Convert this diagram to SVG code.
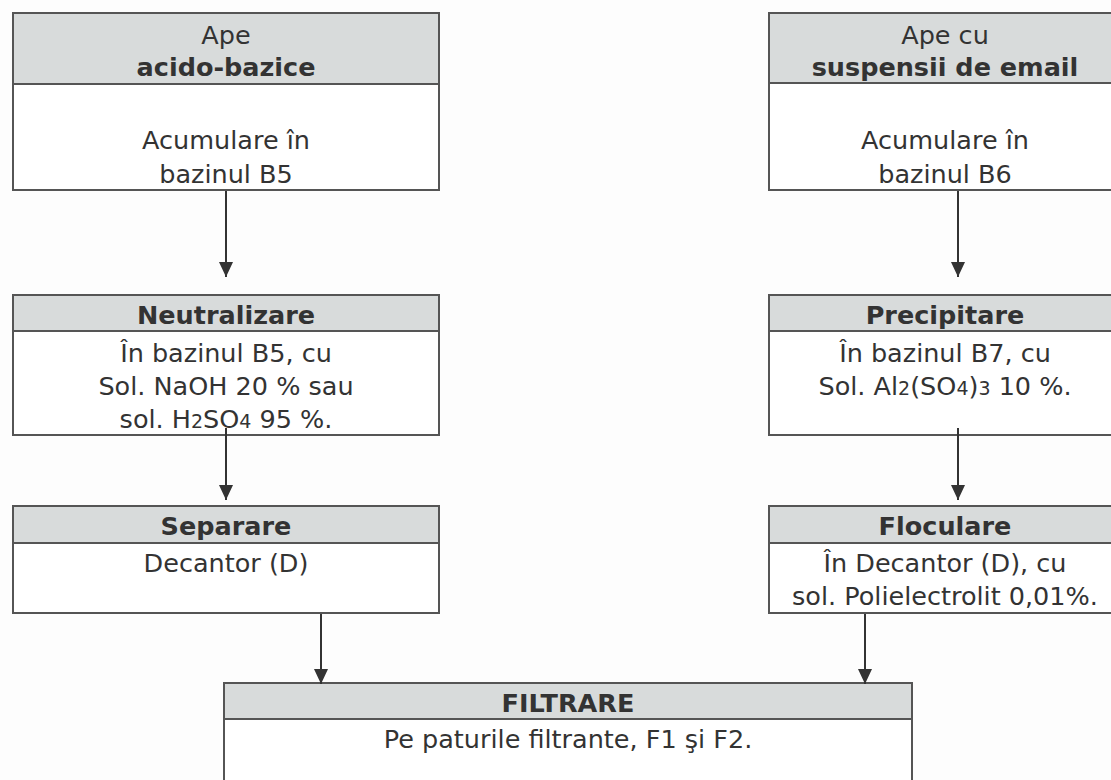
<svg xmlns="http://www.w3.org/2000/svg" width="1111" height="780" viewBox="0 0 1111 780">
<defs>
<style>
.box{fill:#ffffff;stroke:#555;stroke-width:2}
.hdr{fill:#d8dbdb;stroke:#555;stroke-width:2}
text{font-family:"DejaVu Sans","Verdana",sans-serif;font-size:25.5px;fill:#333;text-anchor:middle}
.b{font-weight:bold}
.s{font-size:19px}
.conn{stroke:#333;stroke-width:2;fill:none;marker-end:url(#ah)}
</style>
<marker id="ah" markerUnits="userSpaceOnUse" markerWidth="16" markerHeight="16" refX="15" refY="7" orient="auto" viewBox="0 0 16 14">
<path d="M0,0 L15,7 L0,14 Z" fill="#333"/>
</marker>
</defs>
<rect width="1111" height="780" fill="#fdfdfd"/>

<g id="ape-acido-bazice">
<rect class="box" x="13" y="13" width="426" height="177"/>
<rect class="hdr" x="13" y="13" width="426" height="71"/>
<text x="226" y="44">Ape</text>
<text class="b" x="226" y="76">acido-bazice</text>
<text x="226" y="149">Acumulare în</text>
<text x="226" y="183">bazinul B5</text>
</g>

<g id="ape-suspensii">
<rect class="box" x="769" y="13" width="360" height="177"/>
<rect class="hdr" x="769" y="13" width="360" height="70"/>
<text x="945" y="44">Ape cu</text>
<text class="b" x="945" y="76">suspensii de email</text>
<text x="945" y="149">Acumulare în</text>
<text x="945" y="183">bazinul B6</text>
</g>

<g id="neutralizare">
<rect class="box" x="13" y="295" width="426" height="140"/>
<rect class="hdr" x="13" y="295" width="426" height="36"/>
<text class="b" x="226" y="324">Neutralizare</text>
<text x="226" y="362">În bazinul B5, cu</text>
<text x="226" y="395">Sol. NaOH 20 % sau</text>
<text x="226" y="428">sol. H<tspan class="s">2</tspan>SO<tspan class="s">4</tspan> 95 %.</text>
</g>

<g id="precipitare">
<rect class="box" x="769" y="295" width="360" height="140"/>
<rect class="hdr" x="769" y="295" width="360" height="36"/>
<text class="b" x="945" y="324">Precipitare</text>
<text x="945" y="362">În bazinul B7, cu</text>
<text x="945" y="395">Sol. Al<tspan class="s">2</tspan>(SO<tspan class="s">4</tspan>)<tspan class="s">3</tspan> 10 %.</text>
</g>

<g id="separare">
<rect class="box" x="13" y="506" width="426" height="107"/>
<rect class="hdr" x="13" y="506" width="426" height="37"/>
<text class="b" x="226" y="535">Separare</text>
<text x="226" y="572">Decantor (D)</text>
</g>

<g id="floculare">
<rect class="box" x="769" y="506" width="360" height="107"/>
<rect class="hdr" x="769" y="506" width="360" height="37"/>
<text class="b" x="945" y="535">Floculare</text>
<text x="945" y="572">În Decantor (D), cu</text>
<text x="945" y="605">sol. Polielectrolit 0,01%.</text>
</g>

<g id="filtrare">
<rect class="box" x="224" y="683" width="688" height="120"/>
<rect class="hdr" x="224" y="683" width="688" height="36"/>
<text class="b" x="568" y="712">FILTRARE</text>
<text x="568" y="748">Pe paturile filtrante, F1 şi F2.</text>
</g>

<g id="connectors">
<line class="conn" x1="226" y1="191" x2="226" y2="277"/>
<line class="conn" x1="958" y1="191" x2="958" y2="277"/>
<line class="conn" x1="226" y1="428" x2="226" y2="500"/>
<line class="conn" x1="958" y1="428" x2="958" y2="500"/>
<line class="conn" x1="321" y1="614" x2="321" y2="684"/>
<line class="conn" x1="865" y1="614" x2="865" y2="684"/>
</g>
</svg>
